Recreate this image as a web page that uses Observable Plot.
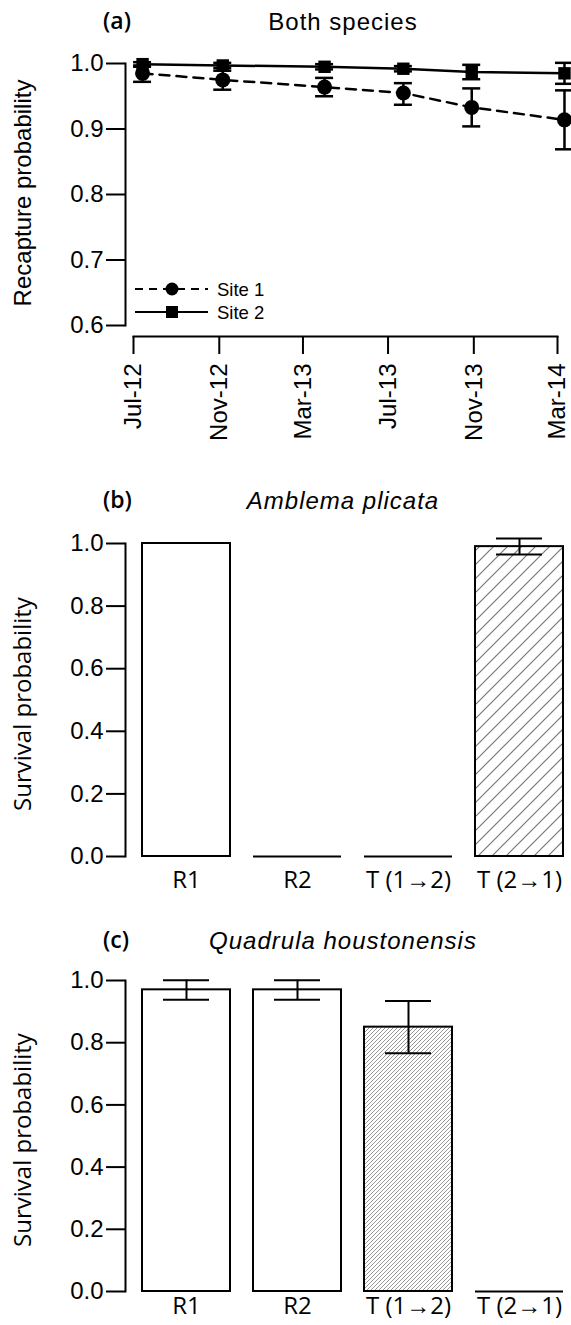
<!DOCTYPE html>
<html>
<head>
<meta charset="utf-8">
<script src="https://cdn.jsdelivr.net/npm/d3@7"></script>
<script src="https://cdn.jsdelivr.net/npm/@observablehq/plot@0.6"></script>
<style>
  body { margin: 0; background: #fff; }
  #wrap { position: relative; width: 571px; height: 1325px; overflow: hidden; background: #fff; }
  .panel { position: absolute; left: 0; }
  #overlay { position: absolute; left: 0; top: 0; pointer-events: none; }
</style>
</head>
<body>
<svg width="0" height="0" style="position:absolute">
  <defs>
    <pattern id="hatchB" patternUnits="userSpaceOnUse" width="14" height="14">
      <rect width="14" height="14" fill="white"/>
      <path d="M-2,2 L2,-2 M0,14 L14,0 M12,16 L16,12" stroke="#777" stroke-width="1.2"/>
    </pattern>
    <pattern id="hatchC" patternUnits="userSpaceOnUse" width="4" height="4">
      <rect width="4" height="4" fill="white"/>
      <path d="M-1,1 L1,-1 M0,4 L4,0 M3,5 L5,3" stroke="#8a8a8a" stroke-width="0.9"/>
    </pattern>
  </defs>
</svg>
<div id="wrap"></div>
<script>
// ---------- data ----------
const sampleDates = ["2012-07-14", "2012-11-06", "2013-04-01", "2013-07-23", "2013-10-29", "2014-03-11"];
const site1 = [0.985, 0.975, 0.964, 0.955, 0.933, 0.914];
const site1Lo = [0.972, 0.960, 0.950, 0.937, 0.904, 0.869];
const site1Hi = [0.997, 0.989, 0.978, 0.970, 0.962, 0.959];
const site2 = [0.999, 0.997, 0.995, 0.992, 0.987, 0.985];
const site2Lo = [0.995, 0.993, 0.991, 0.988, 0.976, 0.969];
const site2Hi = [1.002, 1.001, 0.999, 0.996, 0.998, 1.001];
const monthTicks = ["2012-07-01", "2012-11-01", "2013-03-01", "2013-07-01", "2013-11-01", "2014-03-01"];
const yTicksA = [0.6, 0.7, 0.8, 0.9, 1.0];
const legendLabels = ["Site 1", "Site 2"];

const categories = ["R1", "R2", "T (1\u21922)", "T (2\u21921)"];
const isTransfer = [false, false, true, true];
const survB = [1.0, 0, 0, 0.99];
const survBLo = [null, null, null, 0.965];
const survBHi = [null, null, null, 1.016];
const survC = [0.97, 0.97, 0.85, 0];
const survCLo = [0.938, 0.938, 0.766, null];
const survCHi = [1.001, 1.001, 0.934, null];
const yTicksBC = [0, 0.2, 0.4, 0.6, 0.8, 1.0];

// ---------- build tables ----------
const parse = d3.utcParse("%Y-%m-%d");
const rows1 = sampleDates.map((d, i) => ({date: parse(d), value: site1[i], lo: site1Lo[i], hi: site1Hi[i], site: legendLabels[0]}));
const rows2 = sampleDates.map((d, i) => ({date: parse(d), value: site2[i], lo: site2Lo[i], hi: site2Hi[i], site: legendLabels[1]}));
const rowsA = rows1.concat(rows2);
const tickDates = monthTicks.map(parse);

const barRows = (vals, lo, hi) => categories.map((c, i) => ({cat: c, value: vals[i], lo: lo[i], hi: hi[i], transfer: isTransfer[i]}));
const rowsB = barRows(survB, survBLo, survBHi);
const rowsC = barRows(survC, survCLo, survCHi);

const ARIAL = "'Liberation Sans', Arial, Helvetica, sans-serif";
const SEGOE = "'Open Sans', 'Noto Sans', sans-serif";
const baseStyle = {fontFamily: ARIAL, fontSize: "24px", color: "black", background: "transparent", overflow: "visible"};
const wrap = document.getElementById("wrap");

function place(svg, top) {
  svg.classList.add("panel");
  svg.style.top = top + "px";
  wrap.appendChild(svg);
}

// ---------- panel (a) ----------
const A = Plot.plot({
  width: 571, height: 460,
  marginLeft: 125, marginRight: 14, marginTop: 63, marginBottom: 124,
  style: baseStyle,
  x: {type: "utc", domain: [tickDates[0], tickDates[tickDates.length - 1]], insetLeft: 8},
  y: {domain: [0.6, 1.0], insetBottom: 11},
  marks: [
    Plot.frame({anchor: "left", insetBottom: 11, strokeWidth: 2}),
    Plot.frame({anchor: "bottom", insetLeft: 8, strokeWidth: 2}),
    Plot.axisY({ticks: yTicksA, tickFormat: d3.format(".1f"), tickSize: 19, tickPadding: 3, strokeWidth: 2, label: null, fontSize: 24}),
    Plot.axisX({ticks: tickDates, tickFormat: d3.utcFormat("%b-%y"), tickRotate: -90, tickSize: 18, tickPadding: 9, strokeWidth: 2, label: null, fontSize: 24}),
    Plot.text(["Recapture probability"], {text: d => d, frameAnchor: "left", textAnchor: "middle", lineAnchor: "middle", rotate: -90, dx: -102, dy: -7, fontSize: 24}),
    Plot.line(rows1, {x: "date", y: "value", strokeWidth: 2.5, strokeDasharray: "10,7"}),
    Plot.line(rows2, {x: "date", y: "value", strokeWidth: 2.5}),
    Plot.ruleX(rowsA, {x: "date", y1: "lo", y2: "hi", strokeWidth: 2.5}),
    Plot.ruleY(rowsA, {y: "lo", x1: "date", x2: "date", insetLeft: -9, insetRight: -9, strokeWidth: 2.5}),
    Plot.ruleY(rowsA, {y: "hi", x1: "date", x2: "date", insetLeft: -9, insetRight: -9, strokeWidth: 2.5}),
    Plot.dot(rows1, {x: "date", y: "value", r: 7.5, fill: "black", stroke: null}),
    Plot.dot(rows2, {x: "date", y: "value", symbol: "square", r: 7, fill: "black", stroke: null})
  ]
});
place(A, 0);

// ---------- panels (b) and (c) ----------
function barPanel(rows, hatch, top, height, marginBottom, labelDy, pad) {
  const svg = Plot.plot({
    width: 571, height,
    marginLeft: 125, marginRight: 7, marginTop: 63, marginBottom,
    style: baseStyle,
    x: {type: "band", domain: categories, insetLeft: 16, paddingInner: 0.207, paddingOuter: 0},
    y: {domain: [0, 1]},
    marks: [
      Plot.frame({anchor: "left", strokeWidth: 2}),
      Plot.axisY({ticks: yTicksBC, tickFormat: d3.format(".1f"), tickSize: 19, tickPadding: 3, strokeWidth: 2, label: null, fontSize: 24}),
      Plot.axisX({tickSize: 0, tickPadding: pad, label: null, fontSize: 24, fontFamily: SEGOE}),
      Plot.text(["Survival probability"], {text: d => d, frameAnchor: "left", textAnchor: "middle", lineAnchor: "middle", rotate: -90, dx: -102, dy: labelDy, fontSize: 24, fontFamily: SEGOE}),
      Plot.barY(rows, {x: "cat", y: "value", filter: d => !d.transfer && d.value > 0, fill: "white", stroke: "black", strokeWidth: 2}),
      Plot.barY(rows, {x: "cat", y: "value", filter: d => d.transfer && d.value > 0, fill: `url(#${hatch})`, stroke: "black", strokeWidth: 2}),
      Plot.tickY(rows, {x: "cat", y: "value", filter: d => d.value === 0, strokeWidth: 2}),
      Plot.ruleX(rows, {x: "cat", y1: "lo", y2: "hi", filter: d => d.lo != null, strokeWidth: 2}),
      Plot.tickY(rows, {x: "cat", y: "lo", filter: d => d.lo != null, insetLeft: 21, insetRight: 21, strokeWidth: 2}),
      Plot.tickY(rows, {x: "cat", y: "hi", filter: d => d.hi != null, insetLeft: 21, insetRight: 21, strokeWidth: 2})
    ]
  });
  place(svg, top);
}
barPanel(rowsB, "hatchB", 480, 420, 44, 4, 14);
barPanel(rowsC, "hatchC", 917, 408, 34, 4, 5);

// ---------- titles and legend overlay ----------
const NS = "http://www.w3.org/2000/svg";
const ov = document.createElementNS(NS, "svg");
ov.setAttribute("id", "overlay");
ov.setAttribute("width", 571);
ov.setAttribute("height", 1325);
wrap.appendChild(ov);
function txt(str, x, y, attrs) {
  const t = document.createElementNS(NS, "text");
  t.textContent = str;
  t.setAttribute("x", x); t.setAttribute("y", y);
  for (const k in attrs) t.setAttribute(k, attrs[k]);
  ov.appendChild(t);
  return t;
}
function el(name, attrs) {
  const e = document.createElementNS(NS, name);
  for (const k in attrs) e.setAttribute(k, attrs[k]);
  ov.appendChild(e);
  return e;
}
const panelTitles = [
  {tag: "(a)", name: "Both species", italic: false, base: 30},
  {tag: "(b)", name: "Amblema plicata", italic: true, base: 509},
  {tag: "(c)", name: "Quadrula houstonensis", italic: true, base: 949}
];
for (const p of panelTitles) {
  txt(p.tag, 103, p.base - 1, {"font-family": SEGOE, "font-size": 23, "font-weight": 600});
  txt(p.name, 343, p.base, {"font-family": ARIAL, "font-size": 24, "text-anchor": "middle", "font-style": p.italic ? "italic" : "normal", "letter-spacing": "1px"});
}
// legend (panel a)
const legY = [289, 312];
el("line", {x1: 135, x2: 208, y1: legY[0], y2: legY[0], stroke: "black", "stroke-width": 2, "stroke-dasharray": "8,6"});
el("circle", {cx: 172, cy: legY[0], r: 6.5, fill: "black"});
el("line", {x1: 135, x2: 208, y1: legY[1], y2: legY[1], stroke: "black", "stroke-width": 2});
el("rect", {x: 166, y: legY[1] - 6, width: 12, height: 12, fill: "black"});
legendLabels.forEach((s, i) => txt(s, 217, legY[i] + 6.5, {"font-family": ARIAL, "font-size": 18.5}));
</script>
</body>
</html>
